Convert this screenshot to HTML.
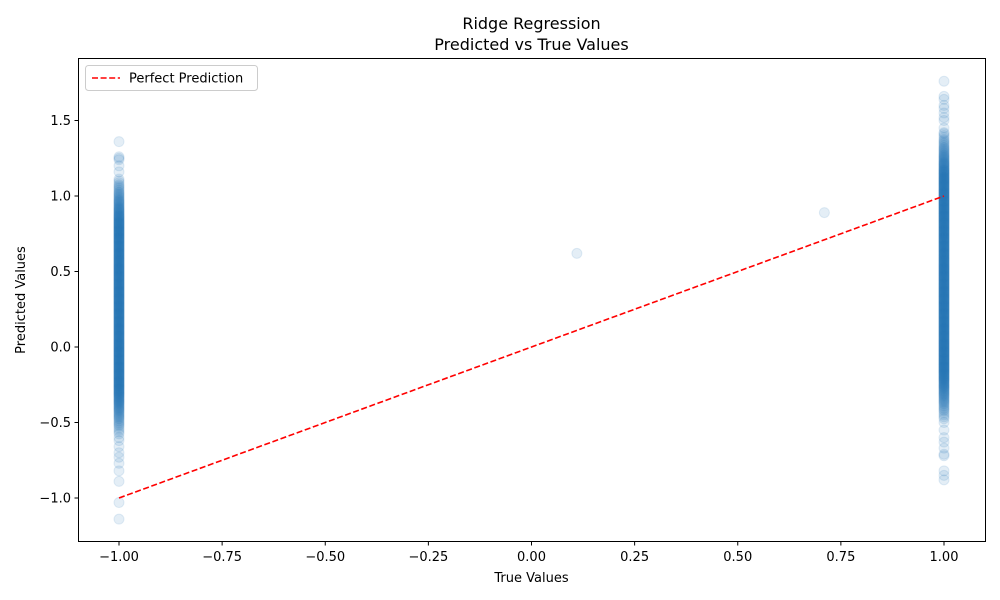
<!DOCTYPE html>
<html><head><meta charset="utf-8"><style>
html,body{margin:0;padding:0;background:#fff}
svg{display:block;font-family:"DejaVu Sans","Liberation Sans",sans-serif}
</style></head><body>
<svg id="chart" width="1000" height="600" viewBox="0 0 1000 600">
<rect x="0" y="0" width="1000" height="600" fill="#fff"/>
<text x="531.5" y="29" font-size="16" text-anchor="middle">Ridge Regression</text>
<text x="531.5" y="50" font-size="16" text-anchor="middle">Predicted vs True Values</text>
<g id="points"></g>
<g id="line"></g>
<g id="xticks"></g>
<g id="yticks"></g>
<rect x="78.5" y="58.5" width="907" height="483" fill="none" stroke="#000" stroke-width="1"/>
<text x="531.5" y="582" font-size="13" text-anchor="middle">True Values</text>
<text x="0" y="0" font-size="13" text-anchor="middle" transform="translate(25,300) rotate(-90)">Predicted Values</text>
<g>
<rect x="85.5" y="65.5" width="172" height="25" rx="3" fill="#fff" fill-opacity="0.8" stroke="#ccc"/>
<line x1="92" y1="78" x2="120" y2="78" stroke="#f00" stroke-width="1.6" stroke-dasharray="6,2.6"/>
<text x="129" y="82.5" font-size="13">Perfect Prediction</text>
</g>
</svg>
<script>
const xTicks=[-1.00,-0.75,-0.50,-0.25,0.00,0.25,0.50,0.75,1.00];
const xTickLabels=["−1.00","−0.75","−0.50","−0.25","0.00","0.25","0.50","0.75","1.00"];
const yTicks=[-1.0,-0.5,0.0,0.5,1.0,1.5];
const yTickLabels=["−1.0","−0.5","0.0","0.5","1.0","1.5"];
// left column (true = -1): dense centers and repeat counts
const leftDenseY=[1.10,1.05,1.00,0.95,0.90,0.85,0.80,0.75,0.70,0.65,0.60,0.55,0.50,0.45,0.40,0.35,0.30,0.25,0.20,0.15,0.10,0.05,0.00,-0.05,-0.10,-0.15,-0.20,-0.25,-0.30,-0.35,-0.40,-0.45,-0.50,-0.55];
const leftDenseN=[4,6,8,10,12,14,15,15,15,15,15,15,15,15,15,15,15,15,15,15,15,15,15,15,15,15,15,15,14,12,10,8,6,4];
const leftSparseY=[1.36,1.26,1.25,1.24,1.20,1.16,-0.60,-0.62,-0.66,-0.70,-0.73,-0.77,-0.82,-0.89,-1.03,-1.14];
// right column (true = 1)
const rightDenseY=[1.40,1.35,1.30,1.25,1.20,1.15,1.10,1.05,1.00,0.95,0.90,0.85,0.80,0.75,0.70,0.65,0.60,0.55,0.50,0.45,0.40,0.35,0.30,0.25,0.20,0.15,0.10,0.05,0.00,-0.05,-0.10,-0.15,-0.20,-0.25,-0.30,-0.35,-0.40,-0.45];
const rightDenseN=[4,6,8,10,12,14,15,15,15,15,15,15,15,15,15,15,15,15,15,15,15,15,15,15,15,15,15,15,15,15,15,15,14,12,10,8,6,4];
const rightSparseY=[1.76,1.66,1.64,1.60,1.58,1.55,1.52,1.50,1.45,1.42,-0.50,-0.55,-0.60,-0.63,-0.67,-0.71,-0.72,-0.82,-0.85,-0.88];
const midX=[0.11,0.71];
const midY=[0.62,0.89];
const lineX=[-1,1];
const lineY=[-1,1];

const NS="http://www.w3.org/2000/svg";
function sx(v){return 531.5+v*412.5;}
function sy(v){return 347-v*151;}
const pts=document.getElementById('points');
function dot(x,y){
  const c=document.createElementNS(NS,'circle');
  c.setAttribute('cx',sx(x));c.setAttribute('cy',sy(y));c.setAttribute('r',5);
  c.setAttribute('fill','#1f77b4');c.setAttribute('fill-opacity','0.12');
  c.setAttribute('stroke','#1f77b4');c.setAttribute('stroke-opacity','0.12');
  
  
  pts.appendChild(c);
}
function dense(x,ys,ns){
  for(let i=0;i<ys.length;i++){
    for(let k=0;k<ns[i];k++){dot(x,ys[i]-0.025+0.05*k/ns[i]);}
  }
}
dense(-1,leftDenseY,leftDenseN);
leftSparseY.forEach(y=>dot(-1,y));
dense(1,rightDenseY,rightDenseN);
rightSparseY.forEach(y=>dot(1,y));
for(let i=0;i<midX.length;i++)dot(midX[i],midY[i]);

const lg=document.getElementById('line');
const ln=document.createElementNS(NS,'line');
ln.setAttribute('x1',sx(lineX[0]));ln.setAttribute('y1',sy(lineY[0]));
ln.setAttribute('x2',sx(lineX[1]));ln.setAttribute('y2',sy(lineY[1]));
ln.setAttribute('stroke','#f00');ln.setAttribute('stroke-width','1.6');ln.setAttribute('stroke-dasharray','6,2.6');


lg.appendChild(ln);

const xg=document.getElementById('xticks');
xTicks.forEach((v,i)=>{
  const t=document.createElementNS(NS,'line');
  t.setAttribute('x1',sx(v));t.setAttribute('x2',sx(v));t.setAttribute('y1',541.5);t.setAttribute('y2',545.5);t.setAttribute('stroke','#000');
  
  
  xg.appendChild(t);
  const l=document.createElementNS(NS,'text');
  l.setAttribute('x',sx(v));l.setAttribute('y',561);l.setAttribute('font-size','13');l.setAttribute('text-anchor','middle');
  l.textContent=xTickLabels[i];
  
  
  xg.appendChild(l);
});
const yg=document.getElementById('yticks');
yTicks.forEach((v,i)=>{
  const t=document.createElementNS(NS,'line');
  t.setAttribute('x1',74.5);t.setAttribute('x2',78.5);t.setAttribute('y1',sy(v));t.setAttribute('y2',sy(v));t.setAttribute('stroke','#000');
  
  
  yg.appendChild(t);
  const l=document.createElementNS(NS,'text');
  l.setAttribute('x',71);l.setAttribute('y',sy(v)+4.5);l.setAttribute('font-size','13');l.setAttribute('text-anchor','end');
  l.textContent=yTickLabels[i];
  
  
  yg.appendChild(l);
});
</script>
</body></html>
